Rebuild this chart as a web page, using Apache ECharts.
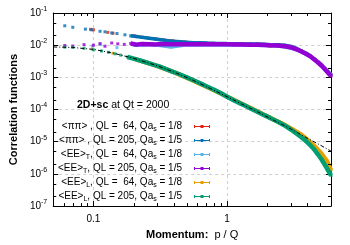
<!DOCTYPE html>
<html><head><meta charset="utf-8">
<script src="https://cdn.jsdelivr.net/npm/echarts@6/dist/echarts.min.js"></script>
<style>html,body{margin:0;padding:0;background:#fff}#c{width:350px;height:245px}</style>
</head><body><div id="c"></div>
<script>
const FONT = '"Liberation Sans", Arial, Helvetica, sans-serif';

// ---- tick labels ----
const xTickValues = [0.1, 1];
const yTickExponents = [-7, -6, -5, -4, -3, -2, -1];

// ---- <pi pi>, QL = 64 (red) ----
const piPi64_p = [0.095, 0.1, 0.128, 0.14, 0.2, 0.28, 0.4, 0.55, 0.8, 1.1, 1.5, 2.1, 2.6, 3.1, 3.6, 4.1, 4.6, 5.1, 5.6, 6.0];
const piPi64_v = [0.031, 0.030, 0.025, 0.0235, 0.0195, 0.016, 0.0134, 0.0121, 0.0114, 0.0111, 0.0108, 0.0092, 0.0098, 0.0088, 0.0067, 0.0049, 0.0035, 0.0024, 0.0016, 0.0012];
// ---- <pi pi>, QL = 205 (blue) ----
const piPi205_p = [0.061, 0.070, 0.087, 0.097, 0.112, 0.122, 0.137, 0.15, 0.172, 0.19, 0.21, 0.23, 0.26, 0.29, 0.32, 0.36, 0.40, 0.45, 0.5, 0.56, 0.63, 0.7, 0.8, 0.9, 1.0, 1.15, 1.3, 1.5, 1.7, 1.9, 2.1, 2.4, 2.7, 3.0, 3.3, 3.6, 3.9, 4.2, 4.5, 4.8, 5.1, 5.4, 5.7, 6.0];
const piPi205_v = [0.040, 0.036, 0.0315, 0.030, 0.027, 0.026, 0.024, 0.023, 0.021, 0.0195, 0.0185, 0.0175, 0.0165, 0.0155, 0.0148, 0.0138, 0.0132, 0.0127, 0.0123, 0.012, 0.0118, 0.0116, 0.0114, 0.0113, 0.0112, 0.0111, 0.011, 0.0109, 0.0108, 0.0106, 0.0104, 0.0103, 0.0100, 0.0092, 0.0080, 0.0066, 0.0056, 0.0046, 0.0037, 0.0030, 0.0024, 0.0018, 0.0015, 0.0012];
// ---- <EE>_T, QL = 64 (light blue) ----
const eeT64_p = [0.098, 0.112, 0.15, 0.2, 0.28, 0.38, 0.5, 0.7, 1.0, 1.4, 2.0, 2.6, 3.1, 3.6, 4.1, 4.6, 5.1, 5.6, 6.0];
const eeT64_v = [0.0093, 0.0105, 0.0084, 0.0102, 0.0106, 0.0090, 0.0105, 0.0104, 0.0104, 0.0103, 0.0100, 0.0092, 0.0080, 0.0064, 0.0048, 0.0034, 0.0024, 0.0016, 0.0012];
// ---- <EE>_T, QL = 205 (purple) ----
const eeT205_p = [0.061, 0.070, 0.085, 0.1, 0.112, 0.122, 0.137, 0.152, 0.17, 0.19, 0.21, 0.23, 0.26, 0.29, 0.32, 0.36, 0.4, 0.45, 0.5, 0.56, 0.63, 0.7, 0.8, 0.9, 1.0, 1.15, 1.3, 1.5, 1.7, 1.9, 2.1, 2.4, 2.7, 3.0, 3.3, 3.6, 3.9, 4.2, 4.5, 4.8, 5.1, 5.4, 5.7, 6.0];
const eeT205_v = [0.0098, 0.0094, 0.0104, 0.0100, 0.0112, 0.0093, 0.0117, 0.0110, 0.0106, 0.0113, 0.0104, 0.0109, 0.0107, 0.0105, 0.0108, 0.0106, 0.0107, 0.0106, 0.0107, 0.0106, 0.0106, 0.0107, 0.0106, 0.0106, 0.0106, 0.0105, 0.0105, 0.0104, 0.0103, 0.0101, 0.0099, 0.0097, 0.0093, 0.0086, 0.0075, 0.0064, 0.0054, 0.0045, 0.0036, 0.0029, 0.0023, 0.0018, 0.0014, 0.0011];
// ---- <EE>_L, QL = 64 (orange) ----
const eeL64_p = [0.098, 0.14, 0.2, 0.28, 0.4, 0.55, 0.8, 1.1, 1.5, 2.1, 2.6, 3.1, 3.6, 4.1, 4.6, 5.1, 5.6, 6.0];
const eeL64_v = [0.0075, 0.0056, 0.0038, 0.0025, 0.00145, 0.00082, 0.00040, 0.00021, 0.000112, 0.000056, 0.000036, 0.000024, 0.0000165, 0.0000105, 0.0000068, 0.0000042, 0.0000025, 0.0000013];
// ---- <EE>_L, QL = 205 (green) ----
const eeL205_p = [0.061, 0.07, 0.085, 0.1, 0.115, 0.13, 0.145, 0.16, 0.18, 0.2, 0.22, 0.25, 0.28, 0.31, 0.35, 0.39, 0.44, 0.5, 0.56, 0.63, 0.7, 0.8, 0.9, 1.0, 1.15, 1.3, 1.5, 1.7, 1.9, 2.1, 2.4, 2.7, 3.0, 3.3, 3.6, 3.9, 4.2, 4.5, 4.8, 5.1, 5.4, 5.7, 6.0];
const eeL205_v = [0.0087, 0.0085, 0.0080, 0.0072, 0.0066, 0.0060, 0.0054, 0.0049, 0.0043, 0.0038, 0.0034, 0.0029, 0.0025, 0.0022, 0.0018, 0.0015, 0.00125, 0.00100, 0.00081, 0.00065, 0.00053, 0.00041, 0.00032, 0.00025, 0.000185, 0.000145, 0.000108, 0.000084, 0.000067, 0.000055, 0.000042, 0.000032, 0.000024, 0.000018, 0.0000138, 0.0000105, 0.0000078, 0.0000057, 0.0000040, 0.0000028, 0.0000019, 0.0000013, 0.0000009];
// ---- fit line (black dash-dot) ----
const fit_p = [0.05, 0.07, 0.1, 0.14, 0.2, 0.3, 0.42, 0.55, 0.75, 1.0, 1.3, 1.7, 2.2, 3.0, 4.0, 5.0, 6.0];
const fit_v = [0.0088, 0.0085, 0.0074, 0.0057, 0.0039, 0.0023, 0.00135, 0.00083, 0.00045, 0.00025, 0.000145, 0.000084, 0.000048, 0.000025, 0.0000128, 0.0000078, 0.0000051];

// ---- legend labels ----
const legendLabels = [
  '{n|<ππ> , QL =  64, Qa}{s|s}{n| = 1/8}',
  '{n|<ππ> , QL = 205, Qa}{s|s}{n| = 1/5}',
  '{n|<EE>}{s|T}{n|, QL =  64, Qa}{s|s}{n| = 1/8}',
  '{n|<EE>}{s|T}{n|, QL = 205, Qa}{s|s}{n| = 1/5}',
  '{n|<EE>}{s|L}{n|, QL =  64, Qa}{s|s}{n| = 1/8}',
  '{n|<EE>}{s|L}{n|, QL = 205, Qa}{s|s}{n| = 1/5}'
];
const colors = ['#e51e10', '#0072b2', '#56b4e9', '#9400d3', '#e69f00', '#009e73'];

const sets = [
  [piPi64_p, piPi64_v, 2.5],
  [piPi205_p, piPi205_v, 3.5],
  [eeT64_p, eeT64_v, 4],
  [eeT205_p, eeT205_v, 4.5],
  [eeL64_p, eeL64_v, 4.5],
  [eeL205_p, eeL205_v, 4.5]
];
const BAND_START = 0.18;

const series = [];
sets.forEach((s, i) => {
  const pts = s[0].map((p, k) => [p, s[1][k]]);
  series.push({
    type: 'line', data: pts.filter(d => d[0] >= BAND_START), showSymbol: false, symbol: 'none',
    lineStyle: { color: colors[i], width: s[2] }, z: 2 + i, silent: true
  });
  series.push({
    type: 'scatter', data: pts, symbol: 'rect', symbolSize: 3,
    itemStyle: { color: colors[i] }, z: 2 + i, silent: true
  });
});
series.push({
  type: 'line', data: fit_p.map((p, k) => [p, fit_v[k]]), showSymbol: false, symbol: 'none',
  lineStyle: { color: '#000', width: 1, type: [4, 2, 1, 2] }, z: 9, silent: true
});

// minor ticks (axis decoration)
const xMinor = [];
[0.01, 0.1, 1].forEach(d => { for (let m = 2; m <= 9; m++) { const v = +(m * d).toPrecision(3); if (v > 0.05 && v < 6) xMinor.push(v); } });
const yMinor = [];
for (let e = -7; e < -1; e++) { [2, 5].forEach(m => yMinor.push(m * Math.pow(10, e))); }

series.push({
  type: 'custom', silent: true, z: 20, clip: false,
  data: xMinor.map(v => [v, 1e-7]),
  renderItem: (params, api) => {
    const pt = api.coord([api.value(0), api.value(1)]);
    const cs = params.coordSys; const x = Math.round(pt[0]) + 0.5;
    return { type: 'group', children: [
      { type: 'line', shape: { x1: x, y1: cs.y + cs.height, x2: x, y2: cs.y + cs.height - 3 }, style: { stroke: '#000', lineWidth: 1 } },
      { type: 'line', shape: { x1: x, y1: cs.y, x2: x, y2: cs.y + 3 }, style: { stroke: '#000', lineWidth: 1 } }
    ]};
  }
});
series.push({
  type: 'custom', silent: true, z: 20, clip: false,
  data: yMinor.map(v => [0.05, v]),
  renderItem: (params, api) => {
    const pt = api.coord([api.value(0), api.value(1)]);
    const cs = params.coordSys; const y = Math.round(pt[1]) + 0.5;
    return { type: 'group', children: [
      { type: 'line', shape: { x1: cs.x, y1: y, x2: cs.x + 3, y2: y }, style: { stroke: '#000', lineWidth: 1 } },
      { type: 'line', shape: { x1: cs.x + cs.width, y1: y, x2: cs.x + cs.width - 3, y2: y }, style: { stroke: '#000', lineWidth: 1 } }
    ]};
  }
});

const richText = {
  n: { fontSize: 10, fontFamily: FONT, fill: '#000', color: '#000' },
  s: { fontSize: 7, fontFamily: FONT, fill: '#000', color: '#000', padding: [6, 0, 0, 0] }
};

// legend graphic
const graphic = [];
const LEG_TEXT_X = 182, LEG_Y0 = 126, LEG_DY = 14, ICON_X1 = 194, ICON_X2 = 210;
legendLabels.forEach((lab, i) => {
  const y = LEG_Y0 + i * LEG_DY;
  graphic.push({ type: 'text', left: null, x: LEG_TEXT_X, y: y, z: 100,
    style: { text: lab, rich: richText, align: 'right', verticalAlign: 'middle', fontSize: 10, fontFamily: FONT, fill: '#000' } });
  const yy = Math.round(y) + 0.5;
  graphic.push({ type: 'group', z: 100, children: [
    { type: 'line', shape: { x1: ICON_X1, y1: yy, x2: ICON_X2, y2: yy }, style: { stroke: colors[i], lineWidth: 1 } },
    { type: 'line', shape: { x1: ICON_X1 + 0.5, y1: yy - 1.5, x2: ICON_X1 + 0.5, y2: yy + 1.5 }, style: { stroke: colors[i], lineWidth: 1 } },
    { type: 'line', shape: { x1: ICON_X2 - 0.5, y1: yy - 1.5, x2: ICON_X2 - 0.5, y2: yy + 1.5 }, style: { stroke: colors[i], lineWidth: 1 } },
    { type: 'rect', shape: { x: (ICON_X1 + ICON_X2) / 2 - 1.5, y: yy - 1.5, width: 3, height: 3 }, style: { fill: colors[i] } }
  ]});
});
graphic.push({ type: 'text', x: 77, y: 105, z: 100,
  style: { text: '{b|2D+sc}{n| at Qt = 2000}', verticalAlign: 'middle', align: 'left',
    rich: { b: { fontSize: 10.5, fontWeight: 'bold', fontFamily: FONT, fill: '#000' }, n: { fontSize: 10.5, fontFamily: FONT, fill: '#000' } } } });

const axisLineStyle = { lineStyle: { color: '#000', width: 1 } };
const splitStyle = { show: true, lineStyle: { color: '#cfcfcf', width: 1, type: [3, 3] } };

const chart = echarts.init(document.getElementById('c'), null, { renderer: 'canvas' });
chart.setOption({
  animation: false,
  backgroundColor: '#fff',
  grid: { left: 46, right: 19, top: 13, bottom: 37, containLabel: false },
  xAxis: [{
    type: 'log', logBase: 10, min: 0.05, max: 6, position: 'bottom',
    axisLine: axisLineStyle, axisTick: { inside: true, length: 5, lineStyle: { color: '#000' } },
    splitLine: splitStyle,
    axisLabel: { color: '#000', fontSize: 10, fontFamily: FONT, margin: 8, showMinLabel: false, showMaxLabel: false,
      formatter: v => { const t = xTickValues.find(x => Math.abs(x - v) / x < 1e-6); return t === undefined ? '' : String(t); } },
    name: '{b|Momentum:}{n|  p / Q}', nameLocation: 'middle', nameGap: 20,
    nameTextStyle: { rich: { b: { fontSize: 11, fontWeight: 'bold', fontFamily: FONT, color: '#000' }, n: { fontSize: 11, fontFamily: FONT, color: '#000' } } }
  }, {
    type: 'log', logBase: 10, min: 0.05, max: 6, position: 'top',
    axisLine: axisLineStyle, axisTick: { inside: true, length: 5, lineStyle: { color: '#000' } },
    splitLine: { show: false }, axisLabel: { show: false }
  }],
  yAxis: [{
    type: 'log', logBase: 10, min: 1e-7, max: 0.1, position: 'left',
    axisLine: axisLineStyle, axisTick: { inside: true, length: 5, lineStyle: { color: '#000' } },
    splitLine: splitStyle,
    axisLabel: { color: '#000', margin: 6,
      formatter: v => { const e = Math.round(Math.log10(v)); return yTickExponents.includes(e) ? '{b|10}{s|' + e + '}' : ''; },
      rich: { b: { fontSize: 10, fontFamily: FONT, color: '#000' }, s: { fontSize: 7, fontFamily: FONT, color: '#000', padding: [0, 0, 8, 0] } } },
    name: 'Correlation functions', nameLocation: 'middle', nameGap: 30, nameRotate: 90,
    nameTextStyle: { fontSize: 11, fontWeight: 'bold', fontFamily: FONT, color: '#000' }
  }, {
    type: 'log', logBase: 10, min: 1e-7, max: 0.1, position: 'right',
    axisLine: axisLineStyle, axisTick: { inside: true, length: 5, lineStyle: { color: '#000' } },
    splitLine: { show: false }, axisLabel: { show: false }
  }],
  series: series,
  graphic: graphic
});
</script></body></html>
